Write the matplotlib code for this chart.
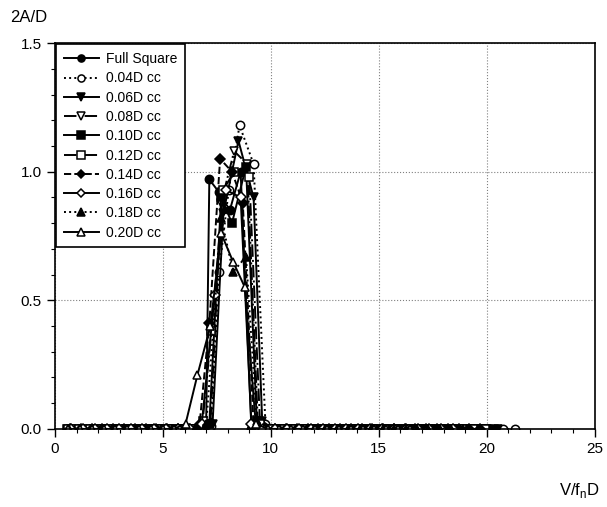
import matplotlib
matplotlib.use("Agg")
import matplotlib.pyplot as plt
from matplotlib.ticker import MultipleLocator

plt.rcParams["font.family"] = ["Liberation Sans", "DejaVu Sans"]

# === DATA (reduced velocity V/fnD vs amplitude 2A/D) ===
full_square_x = [0.6, 1.1, 1.6, 2.1, 2.6, 3.1, 3.6, 4.1, 4.6, 5.1, 5.6, 6.1, 6.6, 7.0,
                 7.15, 7.6, 8.1, 8.6,
                 9.1, 9.6, 10.1, 10.6, 11.1, 11.6, 12.1, 12.6, 13.1, 13.6, 14.1, 14.6,
                 15.1, 15.6, 16.1, 16.6, 17.1, 17.6, 18.1, 18.6, 19.1, 19.6, 20.1, 20.6]
full_square_y = [0, 0, 0, 0, 0, 0, 0, 0, 0, 0, 0, 0, 0, 0,
                 0.97, 0.92, 0.85, 1.0,
                 0, 0, 0, 0, 0, 0, 0, 0, 0, 0, 0, 0,
                 0, 0, 0, 0, 0, 0, 0, 0, 0, 0, 0, 0]

cc004_x = [0.65, 1.2, 1.75, 2.3, 2.85, 3.4, 3.95, 4.5, 5.05, 5.6, 6.15, 6.7, 7.25,
           7.6, 8.05, 8.55, 9.2,
           9.75, 10.3, 10.85, 11.4, 11.95, 12.5, 13.05, 13.6, 14.15, 14.7, 15.25,
           15.8, 16.35, 16.9, 17.45, 18.0, 18.55, 19.1, 19.65, 20.2, 20.75, 21.3]
cc004_y = [0, 0, 0, 0, 0, 0, 0, 0, 0, 0, 0, 0, 0.01,
           0.61, 0.93, 1.18, 1.03,
           0.02, 0, 0, 0, 0, 0, 0, 0, 0, 0, 0,
           0, 0, 0, 0, 0, 0, 0, 0, 0, 0, 0]

cc006_x = [0.7, 1.22, 1.74, 2.26, 2.78, 3.3, 3.82, 4.34, 4.86, 5.38, 5.9, 6.42, 6.94, 7.3,
           7.8, 8.5, 9.2,
           9.6, 10.12, 10.64, 11.16, 11.68, 12.2, 12.72, 13.24, 13.76, 14.28, 14.8,
           15.32, 15.84, 16.36, 16.88, 17.4, 17.92, 18.44, 18.96, 19.48, 20.0, 20.52]
cc006_y = [0, 0, 0, 0, 0, 0, 0, 0, 0, 0, 0, 0, 0, 0.02,
           0.84, 1.12, 0.9,
           0.03, 0, 0, 0, 0, 0, 0, 0, 0, 0, 0,
           0, 0, 0, 0, 0, 0, 0, 0, 0, 0, 0]

cc008_x = [0.8, 1.3, 1.8, 2.3, 2.8, 3.3, 3.8, 4.3, 4.8, 5.3, 5.8, 6.3, 6.8, 7.2,
           7.7, 8.3, 8.9,
           9.4, 9.9, 10.4, 10.9, 11.4, 11.9, 12.4, 12.9, 13.4, 13.9, 14.4,
           14.9, 15.4, 15.9, 16.4, 16.9, 17.4, 17.9, 18.4, 18.9, 19.4, 19.9]
cc008_y = [0, 0, 0, 0, 0, 0, 0, 0, 0, 0, 0, 0, 0, 0.02,
           0.88, 1.08, 1.03,
           0.02, 0, 0, 0, 0, 0, 0, 0, 0, 0, 0,
           0, 0, 0, 0, 0, 0, 0, 0, 0, 0, 0]

cc010_x = [0.55, 1.1, 1.65, 2.2, 2.75, 3.3, 3.85, 4.4, 4.95, 5.5, 6.05, 6.6, 7.15,
           7.7, 8.2, 8.85,
           9.35, 9.9, 10.45, 11.0, 11.55, 12.1, 12.65, 13.2, 13.75, 14.3, 14.85,
           15.4, 15.95, 16.5, 17.05, 17.6, 18.15, 18.7, 19.25, 19.8, 20.35]
cc010_y = [0, 0, 0, 0, 0, 0, 0, 0, 0, 0, 0, 0, 0.02,
           0.9, 0.8, 1.02,
           0.03, 0, 0, 0, 0, 0, 0, 0, 0, 0, 0,
           0, 0, 0, 0, 0, 0, 0, 0, 0, 0]

cc012_x = [0.6, 1.12, 1.64, 2.16, 2.68, 3.2, 3.72, 4.24, 4.76, 5.28, 5.8, 6.32, 6.84,
           7.25, 7.8, 8.3, 9.0,
           9.5, 10.02, 10.54, 11.06, 11.58, 12.1, 12.62, 13.14, 13.66, 14.18, 14.7,
           15.22, 15.74, 16.26, 16.78, 17.3, 17.82, 18.34, 18.86, 19.38, 19.9]
cc012_y = [0, 0, 0, 0, 0, 0, 0, 0, 0, 0, 0, 0, 0.03,
           0.38, 0.93, 1.0, 0.98,
           0.02, 0, 0, 0, 0, 0, 0, 0, 0, 0, 0,
           0, 0, 0, 0, 0, 0, 0, 0, 0, 0]

cc014_x = [0.7, 1.2, 1.7, 2.2, 2.7, 3.2, 3.7, 4.2, 4.7, 5.2, 5.7, 6.2, 6.7,
           7.15, 7.65, 8.2, 8.7,
           9.2, 9.7, 10.2, 10.7, 11.2, 11.7, 12.2, 12.7, 13.2, 13.7, 14.2,
           14.7, 15.2, 15.7, 16.2, 16.7, 17.2, 17.7, 18.2, 18.7, 19.2, 19.7]
cc014_y = [0, 0, 0, 0, 0, 0, 0, 0, 0, 0, 0, 0, 0.02,
           0.41, 1.05, 1.0, 0.88,
           0.02, 0, 0, 0, 0, 0, 0, 0, 0, 0, 0,
           0, 0, 0, 0, 0, 0, 0, 0, 0, 0, 0]

cc016_x = [0.75, 1.3, 1.85, 2.4, 2.95, 3.5, 4.05, 4.6, 5.15, 5.7, 6.25, 6.8,
           7.4, 7.9, 8.6,
           9.1, 9.65, 10.2, 10.75, 11.3, 11.85, 12.4, 12.95, 13.5, 14.05, 14.6,
           15.15, 15.7, 16.25, 16.8, 17.35, 17.9, 18.45]
cc016_y = [0, 0, 0, 0, 0, 0, 0, 0, 0, 0, 0, 0.02,
           0.52, 0.93, 0.9,
           0.02, 0, 0, 0, 0, 0, 0, 0, 0, 0, 0,
           0, 0, 0, 0, 0, 0, 0]

cc018_x = [0.65, 1.18, 1.71, 2.24, 2.77, 3.3, 3.83, 4.36, 4.89, 5.42, 5.95, 6.48, 7.01,
           7.7, 8.25, 8.85,
           9.35, 9.88, 10.41, 10.94, 11.47, 12.0, 12.53, 13.06, 13.59, 14.12, 14.65,
           15.18, 15.71, 16.24, 16.77, 17.3, 17.83, 18.36, 18.89]
cc018_y = [0, 0, 0, 0, 0, 0, 0, 0, 0, 0, 0, 0, 0.02,
           0.82, 0.61, 0.67,
           0.03, 0, 0, 0, 0, 0, 0, 0, 0, 0, 0,
           0, 0, 0, 0, 0, 0, 0, 0]

cc020_x = [0.6, 1.15, 1.7, 2.25, 2.8, 3.35, 3.9, 4.45, 5.0, 5.5, 6.05,
           6.6, 7.2, 7.7, 8.25, 8.8,
           9.3, 9.85, 10.4, 10.95, 11.5, 12.05, 12.6, 13.15, 13.7, 14.25, 14.8,
           15.35, 15.9, 16.45]
cc020_y = [0, 0, 0, 0, 0, 0, 0, 0, 0, 0, 0.02,
           0.21, 0.4, 0.76, 0.65, 0.55,
           0.02, 0, 0, 0, 0, 0, 0, 0, 0, 0, 0,
           0, 0, 0]

series = [
    ("Full Square", full_square_x, full_square_y, "o", "k", "-"),
    ("0.04D cc", cc004_x, cc004_y, "o", "w", ":"),
    ("0.06D cc", cc006_x, cc006_y, "v", "k", "-"),
    ("0.08D cc", cc008_x, cc008_y, "v", "w", "-."),
    ("0.10D cc", cc010_x, cc010_y, "s", "k", "-"),
    ("0.12D cc", cc012_x, cc012_y, "s", "w", "-."),
    ("0.14D cc", cc014_x, cc014_y, "D", "k", "--"),
    ("0.16D cc", cc016_x, cc016_y, "D", "w", "-"),
    ("0.18D cc", cc018_x, cc018_y, "^", "k", ":"),
    ("0.20D cc", cc020_x, cc020_y, "^", "w", "-"),
]

# === PLOT ===
fig = plt.figure(figsize=(6.07, 5.07), dpi=100)
ax = fig.add_axes([0.0906, 0.154, 0.889, 0.761])

for label, xs, ys, marker, face, ls in series:
    ms = 5.0 if marker == "D" else 6.0
    ax.plot(xs, ys, linestyle=ls, color="k", linewidth=1.4, marker=marker,
            markersize=ms, markerfacecolor=face, markeredgecolor="k",
            markeredgewidth=1.1, label=label)

ax.set_xlim(0, 25)
ax.set_ylim(0, 1.5)
ax.xaxis.set_major_locator(MultipleLocator(5))
ax.xaxis.set_minor_locator(MultipleLocator(1))
ax.yaxis.set_major_locator(MultipleLocator(0.5))
ax.yaxis.set_minor_locator(MultipleLocator(0.1))
ax.yaxis.set_major_formatter(plt.FormatStrFormatter("%.1f"))
ax.tick_params(which="major", direction="out", length=6, width=1.0, labelsize=11, colors="k")
ax.tick_params(which="minor", direction="out", length=3, width=0.8)
ax.grid(True, which="major", linestyle=":", color="gray", linewidth=0.8)
ax.set_axisbelow(True)
for sp in ax.spines.values():
    sp.set_linewidth(1.2)
    sp.set_color("k")

leg = ax.legend(loc="upper left", fontsize=10, handlelength=2.5, handletextpad=0.5,
                borderaxespad=0.1, labelspacing=0.38, fancybox=False, edgecolor="k",
                framealpha=1.0, borderpad=0.55, markerscale=0.85)
leg.get_frame().set_linewidth(1.2)

fig.text(10 / 607, 1 - 18 / 507, "2A/D", fontsize=12, va="center", ha="left")
fig.text(600 / 607, 1 - 490 / 507, "V/f$_\\mathregular{n}$D", fontsize=12,
         va="center", ha="right")

fig.savefig("out.png", dpi=100)
plt.close(fig)
